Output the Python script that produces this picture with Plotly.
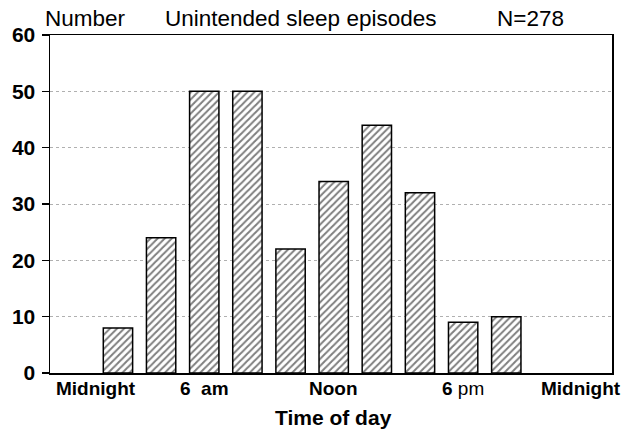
import plotly.graph_objects as go

# ---- data ----
bin_center_hours = [2, 4, 6, 8, 10, 12, 14, 16, 18, 20]
episode_counts = [8, 24, 50, 50, 22, 34, 44, 32, 9, 10]
x_tick_hours = [0, 6, 12, 18, 24]
x_tick_labels = ["<b>Midnight</b>", "<b>6  am</b>", "<b>Noon</b>", "<b>6</b> pm", "<b>Midnight</b>"]
y_tick_values = [0, 10, 20, 30, 40, 50, 60]
title_left = "Number"
title_mid = "Unintended sleep episodes"
title_right = "N=278"
x_title = "Time of day"

FONT = "Liberation Sans, Arial, Helvetica, sans-serif"

FIG_W, FIG_H = 626, 429
PX_L, PX_R, PX_T, PX_B = 48, 614, 35, 373
PW = PX_R - PX_L
PH = PX_B - PX_T

fig = go.Figure()
fig.add_trace(go.Bar(
    x=bin_center_hours,
    y=episode_counts,
    width=1.36,
    marker=dict(
        color="white",
        line=dict(color="black", width=1.5),
        pattern=dict(shape="/", fgcolor="black", bgcolor="white", size=5, solidity=0.4),
    ),
    showlegend=False,
    hoverinfo="skip",
))

# x tick labels as annotations (hand-placed, as in the original figure)
label_shift = [21, 0, 0, 0, -12]
for h, txt, sh in zip(x_tick_hours, x_tick_labels, label_shift):
    fig.add_annotation(
        x=h, y=0, xref="x", yref="y", text=txt, showarrow=False,
        xshift=sh, yshift=-15, xanchor="center", yanchor="middle",
        font=dict(family=FONT, size=19, color="black"),
    )

# axis title
fig.add_annotation(
    x=12, y=0, xref="x", yref="y", text="<b>" + x_title + "</b>", showarrow=False,
    yshift=-44, xanchor="center", yanchor="middle",
    font=dict(family=FONT, size=21, color="black"),
)

# top headings
for txt, px in [(title_left, 84), (title_mid, 300), (title_right, 532)]:
    fig.add_annotation(
        x=(px - PX_L) / PW, y=(PX_B - 18) / PH, xref="paper", yref="paper",
        text=txt, showarrow=False, xanchor="center", yanchor="middle",
        font=dict(family=FONT, size=22.5, color="black"),
    )

fig.update_layout(
    width=FIG_W, height=FIG_H,
    margin=dict(l=PX_L, r=FIG_W - PX_R, t=PX_T, b=FIG_H - PX_B, pad=0),
    paper_bgcolor="white", plot_bgcolor="white",
    bargap=0,
    hovermode=False,
    xaxis=dict(
        range=[-1.15, 24.9], showticklabels=False, ticks="",
        showgrid=False, zeroline=False,
        showline=True, mirror=True, linecolor="black", linewidth=1.5,
    ),
    yaxis=dict(
        range=[0, 60], tickvals=y_tick_values,
        ticks="outside", ticklen=7, tickwidth=1.2, tickcolor="black",
        tickfont=dict(family=FONT, size=21, color="black", weight="bold"),
        ticklabelstandoff=2,
        showgrid=True, gridcolor="#b0b0b0", griddash="dot", gridwidth=1,
        zeroline=False,
        showline=True, mirror=True, linecolor="black", linewidth=1.5,
    ),
)

fig.write_html(
    "out.html",
    config={"displayModeBar": False, "staticPlot": True},
    post_script="document.body.style.margin='0';document.body.style.overflow='hidden';",
)
